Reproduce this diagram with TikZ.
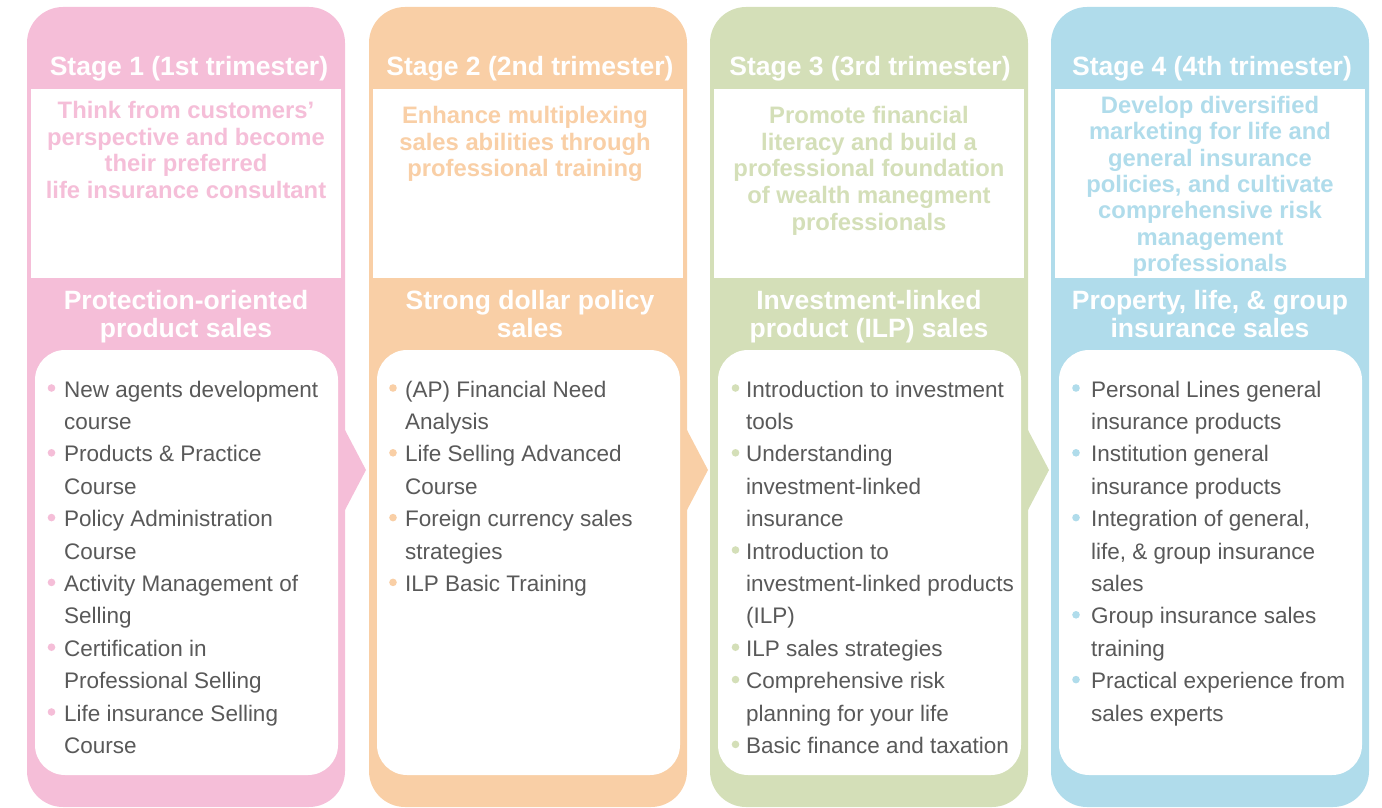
\documentclass[tikz,border=0pt]{standalone}
\usepackage{fontspec}
\setmainfont{Liberation Sans}
\definecolor{c1}{HTML}{F5BED8}
\definecolor{c2}{HTML}{F9CFA6}
\definecolor{c3}{HTML}{D4DFB8}
\definecolor{c4}{HTML}{B0DCEB}
\definecolor{txt}{HTML}{595959}
\tikzset{
  colbox/.style={rectangle, rounded corners=36pt, inner sep=0pt, outer sep=0pt, minimum width=318pt, minimum height=800pt},
  goalbox/.style={rectangle, fill=white, inner sep=0pt, outer sep=0pt, minimum width=310pt, minimum height=189pt},
  listbox/.style={rectangle, rounded corners=30pt, fill=white, inner sep=0pt, outer sep=0pt, minimum width=303pt, minimum height=425pt},
  stitle/.style={font=\fontsize{26.5pt}{28.5pt}\selectfont\bfseries, text=white, anchor=base, inner sep=0pt},
  goaltext/.style={font=\fontsize{23.8pt}{26.7pt}\selectfont\bfseries, anchor=base, inner sep=0pt},
  itemtext/.style={font=\fontsize{22.5pt}{32.4pt}\selectfont, text=txt, anchor=base west, inner sep=0pt},
}
\begin{document}
\begin{tikzpicture}[x=1pt,y=-1pt]
\useasboundingbox (0,0) rectangle (1382,808);
% columns
\node[colbox, fill=c1] (col1) at (186,407) {};
\node[colbox, fill=c2] (col2) at (528,407) {};
\node[colbox, fill=c3] (col3) at (869,407) {};
\node[colbox, fill=c4] (col4) at (1210,407) {};
% arrows
\fill[c1] (345,430) -- (366,470) -- (345,510) -- cycle;
\fill[c2] (687,430) -- (708,470) -- (687,510) -- cycle;
\fill[c3] (1028,430) -- (1049,470) -- (1028,510) -- cycle;
% goal boxes
\node[goalbox] (g1) at (186,183.5) {};
\node[goalbox] (g2) at (528,183.5) {};
\node[goalbox] (g3) at (869,183.5) {};
\node[goalbox] (g4) at (1210,183.5) {};
% list boxes
\node[listbox] (l1) at (186.5,562.5) {};
\node[listbox] (l2) at (528.5,562.5) {};
\node[listbox] (l3) at (869.5,562.5) {};
\node[listbox] (l4) at (1210.5,562.5) {};
% titles
\node[stitle] (s1) at (189,75) {Stage 1 (1st trimester)};
\node[stitle] (s2) at (530,75) {Stage 2 (2nd trimester)};
\node[stitle] (s3) at (870,75) {Stage 3 (3rd trimester)};
\node[stitle] (s4) at (1212,75) {Stage 4 (4th trimester)};
% goals
\foreach \t [count=\k from 0] in {Think from customers’,perspective and become,their preferred,life insurance consultant}
  \node[goaltext, text=c1] (ga\k) at (186,118.3+26.7*\k) {\t};
\foreach \t [count=\k from 0] in {Enhance multiplexing,sales abilities through,professional training}
  \node[goaltext, text=c2] (gb\k) at (525,123.3+26.7*\k) {\t};
\foreach \t [count=\k from 0] in {Promote financial,literacy and build a,professional foundation,of wealth manegment,professionals}
  \node[goaltext, text=c3] (gc\k) at (869,123.3+26.7*\k) {\t};
\foreach \t [count=\k from 0] in {Develop diversified,marketing for life and,general insurance,{policies, and cultivate},comprehensive risk,management,professionals}
  \node[goaltext, text=c4] (gd\k) at (1210,113.3+26.4*\k) {\t};
% headers
\node[stitle] (ha0) at (186,309) {Protection-oriented};
\node[stitle] (ha1) at (186,337.5) {product sales};
\node[stitle] (hb0) at (530,309) {Strong dollar policy};
\node[stitle] (hb1) at (530,337.5) {sales};
\node[stitle] (hc0) at (869,309) {Investment-linked};
\node[stitle] (hc1) at (869,337.5) {product (ILP) sales};
\node[stitle] (hd0) at (1210,309) {{Property, life, \& group}};
\node[stitle] (hd1) at (1210,337.5) {insurance sales};
% bullets col1
\foreach \k in {0,2,4,6,8,10} \fill[c1] (51.5,388+32.4*\k) circle (3.8pt);
\foreach \t [count=\k from 0] in {New agents development,course,Products \& Practice,Course,Policy Administration,Course,Activity Management of,Selling,Certification in,Professional Selling,Life insurance Selling,Course}
  \node[itemtext] (ia\k) at (64,397+32.4*\k) {\t};
% bullets col2
\foreach \k in {0,2,4,6} \fill[c2] (393,388+32.4*\k) circle (3.8pt);
\foreach \t [count=\k from 0] in {(AP) Financial Need,Analysis,Life Selling Advanced,Course,Foreign currency sales,strategies,ILP Basic Training}
  \node[itemtext] (ib\k) at (405,397+32.4*\k) {\t};
% bullets col3
\foreach \k in {0,2,5,8,9,11} \fill[c3] (735.5,388+32.4*\k) circle (3.8pt);
\foreach \t [count=\k from 0] in {Introduction to investment,tools,Understanding,investment-linked,insurance,Introduction to,investment-linked products,(ILP),ILP sales strategies,Comprehensive risk,planning for your life,Basic finance and taxation}
  \node[itemtext] (ic\k) at (746,397+32.4*\k) {\t};
% bullets col4
\foreach \k in {0,2,4,7,9} \fill[c4] (1076,388+32.4*\k) circle (3.8pt);
\foreach \t [count=\k from 0] in {Personal Lines general,insurance products,Institution general,insurance products,{Integration of general,},{life, \& group insurance},sales,Group insurance sales,training,Practical experience from,sales experts}
  \node[itemtext] (id\k) at (1091,397+32.4*\k) {\t};
\end{tikzpicture}
\end{document}
